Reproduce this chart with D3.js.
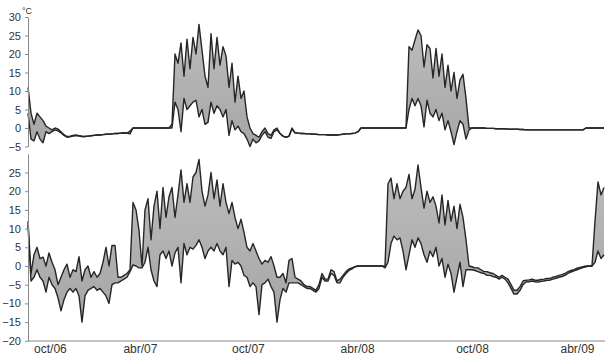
<!DOCTYPE html>
<html>
<head>
<meta charset="utf-8">
<script src="https://cdn.jsdelivr.net/npm/d3@7"></script>
<style>
  html, body { margin: 0; padding: 0; background: #fff; }
  svg { display: block; font-family: "Liberation Sans", Arial, sans-serif; }
  .axis path, .axis line { stroke: #8a8a8a; }
  .axis text { fill: #333; }
</style>
</head>
<body>
<svg id="chart" width="605" height="357"></svg>
<script>
// Temperature series (°C), one value every 5 days, Sep 2006 – May 2009.
// Upper panel: sheltered sensor; lower panel: exposed sensor.
const topMax = [
  11, 4, 1, 4, 3, 2, 0.5, 0, -0.5, 0, -0.3, -1, -1.8, -2.3, -2.2, -2, -1.9,
  -2.1, -2.3, -2.3, -2.2, -2.1, -2.0, -1.9, -1.9, -1.8, -1.7, -1.7, -1.6, -1.5, -1.5, -1.4, -1.3, -1.4,
  -0.8,
  0, 0, 0, 0, 0, 0, 0, 0, 0, 0, 0, 0, 0,
  1, 20, 17.5, 23, 14, 24, 16, 24.5, 20, 28, 21, 14, 11, 25.5, 16, 24.5, 17, 22, 19.5, 11, 17.5, 7, 14, 8, 10, 3, 0,
  -1.5, -2, -2.5, -1, 0, -1.5, -2, -0.5, 0, -1.5, -2.2, -2.5, -2.2, 0, -1.3, -1.4,
  -1.5, -1.5, -1.6, -1.6, -1.7, -1.7, -1.8, -1.8, -1.8, -1.9, -1.9, -1.9, -1.9, -1.8, -1.7, -1.6, -1.6, -1.5, -1.4, -1.0,
  0, 0, 0, 0, 0, 0, 0, 0, 0, 0, 0, 0, 0, 0, 0, 0,
  22, 21, 23.8, 26.5, 25, 16.5, 22.5, 21.5, 13.5, 21.5, 14, 20, 11, 17, 10, 15, 8, 13, 14.5, 8, 0,
  0, 0, 0, 0, 0, -0.1, -0.1, -0.1, -0.2, -0.2, -0.2, -0.2, -0.3, -0.3, -0.3, -0.3, -0.4, -0.4,
  -0.5, -0.5, -0.5, -0.5, -0.5, -0.5, -0.5, -0.5, -0.5, -0.5, -0.5, -0.5, -0.5, -0.5, -0.5, -0.5, -0.5, -0.5, -0.5, -0.5,
  0, 0, 0, 0, 0, 0, 0
];
const topMin = [
  4, -3, -3.5, -1, -3, -4, -1, -1.5, -1, -0.5, -0.8, -1.3, -2, -2.5, -2.4, -2.2, -2.1,
  -2.1, -2.3, -2.3, -2.2, -2.1, -2.0, -1.9, -1.9, -1.8, -1.7, -1.7, -1.6, -1.5, -1.5, -1.4, -1.3, -1.4,
  -1.6,
  0, 0, 0, 0, 0, 0, 0, 0, 0, 0, 0, 0, 0,
  0, 7, 5, -1, 8, 5, 6, 7, 7.5, 3, 5, 1, 1.5, 7, 4, 6, 5, 3, 5, -2, 2, -0.5, 0.5, -1, -1.5, -3, -5,
  -3, -4, -3.5, -2, -1, -2.5, -2.8, -1, -0.5, -1.5, -2.2, -2.5, -2.2, -0.3, -1.3, -1.4,
  -1.5, -1.5, -1.6, -1.6, -1.7, -1.7, -1.8, -1.8, -1.8, -1.9, -1.9, -1.9, -1.9, -1.8, -1.7, -1.6, -1.6, -1.5, -1.4, -1.0,
  0, 0, 0, 0, 0, 0, 0, 0, 0, 0, 0, 0, 0, 0, 0, 0,
  5, 8, 6, 8, 6, 0.3, 7.5, 4, 3, 5, 2, 4, -0.5, 2, -1, -4.5, -1, 2, 1, -3, -0.5,
  0, 0, 0, 0, 0, -0.1, -0.1, -0.1, -0.2, -0.2, -0.2, -0.2, -0.3, -0.3, -0.3, -0.3, -0.4, -0.4,
  -0.5, -0.5, -0.5, -0.5, -0.5, -0.5, -0.5, -0.5, -0.5, -0.5, -0.5, -0.5, -0.5, -0.5, -0.5, -0.5, -0.5, -0.5, -0.5, -0.5,
  0, 0, 0, 0, 0, 0, 0
];
const bottomMax = [
  12, -2, 3, 5, 2, 2.4, 0, 3.5, 1, -1,
  -5, -3, -1, 0.5, -3, -1, -1.5, 2.5, -4, -1,
  0, -3, -1.5, -3, -2, 1, 5, 0, 5.5, 5.5,
  -3, -3, -2.5, -2, -1, 17, 15, 9.5, 0, 15,
  18, 7, 16, 20, 10, 21, 13, 18.5, 21, 13,
  19, 25.7, 17, 22, 17, 23.8, 25, 28.5, 20, 16,
  19, 25, 18, 23, 16, 22, 17, 14, 17, 13,
  10, 12.5, 9, 5, 4, 6, 4, 2, 0.5, 1.5,
  1, 2.5, 0, -3, -3, -2, -4.5, 1.5, 2, -3,
  -3.5, -4, -5, -5.5, -5.5, -6, -6.5, -5, -2, -3.5,
  -3.5, -1, -1.5, -4, -3.5, -2.5, -1.5, -0.8, -0.5, -0.2,
  0, 0, 0, 0, 0, 0, 0, 0, 0, 0,
  22, 23.5, 18, 22, 18, 20, 21, 24.5, 18, 20.5,
  27, 21, 15.5, 20, 17, 18.5, 16, 11.5, 19, 11,
  17.5, 12, 16, 10, 16.5, 13, 7, 0, -0.2, -0.5,
  -0.5, -1, -1.5, -1.5, -1.8, -2, -2.5, -3, -2.5, -3,
  -3.5, -5, -6.5, -6.5, -5.5, -4, -3.8, -3.7, -3.5, -3.8,
  -3.8, -3.6, -3.5, -3.3, -3.3, -3.0, -2.8, -2.5, -2.3, -2,
  -1.5, -1.2, -1, -0.6, -0.4, -0.2, 0, 0, 0, 12,
  22.5, 19, 21
];
const bottomMin = [
  11, -4, -3, -1, -3, -4, -7, -3, -5, -6,
  -8.5, -12, -9, -7, -6, -7, -6, -8, -15, -8,
  -6.5, -6, -5.5, -6.5, -6, -7, -8, -10, -5, -4.5,
  -4.5, -4, -3.5, -3, -1.5, 0.3, 0, -0.5, -0.5, 1,
  5, -1, -4, -5.5, 3, 4, 2, 4, 0, 3.5,
  5, -4.5, 6, 3, 5, 4.5, 5.5, 7, 5, 2,
  4, 5, 4, 6, 4, 3, 5, -5.5, 1.5, 0.5,
  1, 0, -2.5, -3, -5.5, -4.5, -5.5, -13, -5, -4.5,
  -3.5, -5.5, -7, -15, -9, -6, -7, -4.5, -4.5, -4.5,
  -4.5, -5, -5.5, -6, -6, -6.5, -7, -6, -3, -4,
  -4, -2, -2.5, -4.5, -4.5, -3, -2, -1.2, -0.8, -0.2,
  0, 0, 0, 0, 0, 0, 0, 0, 0, -0.5,
  1, 6, 8, 7, 7.5, 4, -1, 3, 7, 5,
  7.5, 6, 3, 1, 4, 2.5, 5, 0, 2, -3,
  0.5, -2, -7, -3, 1, -5.5, -1, -1, -1, -1.2,
  -1.5, -1.8, -2, -2.5, -2.5, -2.8, -3, -3.5, -3, -3.5,
  -4.5, -6, -7.5, -7.5, -6.5, -5, -4.3, -4.2, -4, -4.2,
  -4.3, -4.1, -4, -3.8, -3.8, -3.5, -3.3, -3, -2.8, -2.5,
  -2, -1.6, -1.3, -1, -0.7, -0.4, -0.2, 0, 0, 1,
  4, 2, 3
];

// Month labels, placed at sample indices
const monthLabels = ["oct/06", "abr/07", "oct/07", "abr/08", "oct/08", "abr/09"];
const monthIndex  = [7.3, 37.3, 73.3, 109.7, 148, 183];

const topTicks = [-5, 0, 5, 10, 15, 20, 25, 30];
const bottomTicks = [-20, -15, -10, -5, 0, 5, 10, 15, 20, 25];

const svg = d3.select("#chart");
const n = topMax.length;

const x = d3.scaleLinear().domain([0, n - 1]).range([28, 604]);
const yTop = d3.scaleLinear().domain([-5, 30]).range([146.5, 17]);
const yBot = d3.scaleLinear().domain([-20, 30]).range([340.8, 153.8]);

const defs = svg.append("defs");
const grad = defs.append("linearGradient")
  .attr("id", "bandFill").attr("x1", 0).attr("y1", 0).attr("x2", 0).attr("y2", 1);
grad.append("stop").attr("offset", "0%").attr("stop-color", "#bdbdbd");
grad.append("stop").attr("offset", "100%").attr("stop-color", "#a6a6a6");

function drawPanel(maxV, minV, y) {
  const rows = maxV.map((v, i) => ({ i, hi: v, lo: minV[i] }));
  const g = svg.append("g");
  g.append("path")
    .datum(rows)
    .attr("fill", "url(#bandFill)")
    .attr("d", d3.area().x(d => x(d.i)).y0(d => y(d.lo)).y1(d => y(d.hi)));
  [d => d.lo, d => d.hi].forEach(acc => {
    g.append("path")
      .datum(rows)
      .attr("fill", "none")
      .attr("stroke", "#262626")
      .attr("stroke-width", 1.4)
      .attr("stroke-linejoin", "round")
      .attr("d", d3.line().x(d => x(d.i)).y(d => y(acc(d))));
  });
}

drawPanel(topMax, topMin, yTop);
drawPanel(bottomMax, bottomMin, yBot);

// Vertical axes
function yAxis(y, ticks) {
  const g = svg.append("g")
    .attr("class", "axis")
    .attr("transform", "translate(28,0)")
    .call(d3.axisLeft(y).tickValues(ticks).tickSize(3).tickSizeOuter(0).tickPadding(4));
  g.selectAll("text").attr("font-size", 11);
  return g;
}
yAxis(yTop, topTicks);
yAxis(yBot, bottomTicks);

svg.append("text")
  .attr("x", 22).attr("y", 14)
  .attr("font-size", 9)
  .attr("fill", "#333")
  .text("°C");

// Time axis
const xAxisG = svg.append("g")
  .attr("class", "axis")
  .attr("transform", "translate(0,341)")
  .call(d3.axisBottom(x)
    .tickValues(monthIndex)
    .tickFormat((d, i) => monthLabels[i])
    .tickSize(0)
    .tickPadding(3));
xAxisG.select(".domain").attr("d", "M28,0H605");
xAxisG.selectAll("text").attr("font-size", 12);
</script>
</body>
</html>
